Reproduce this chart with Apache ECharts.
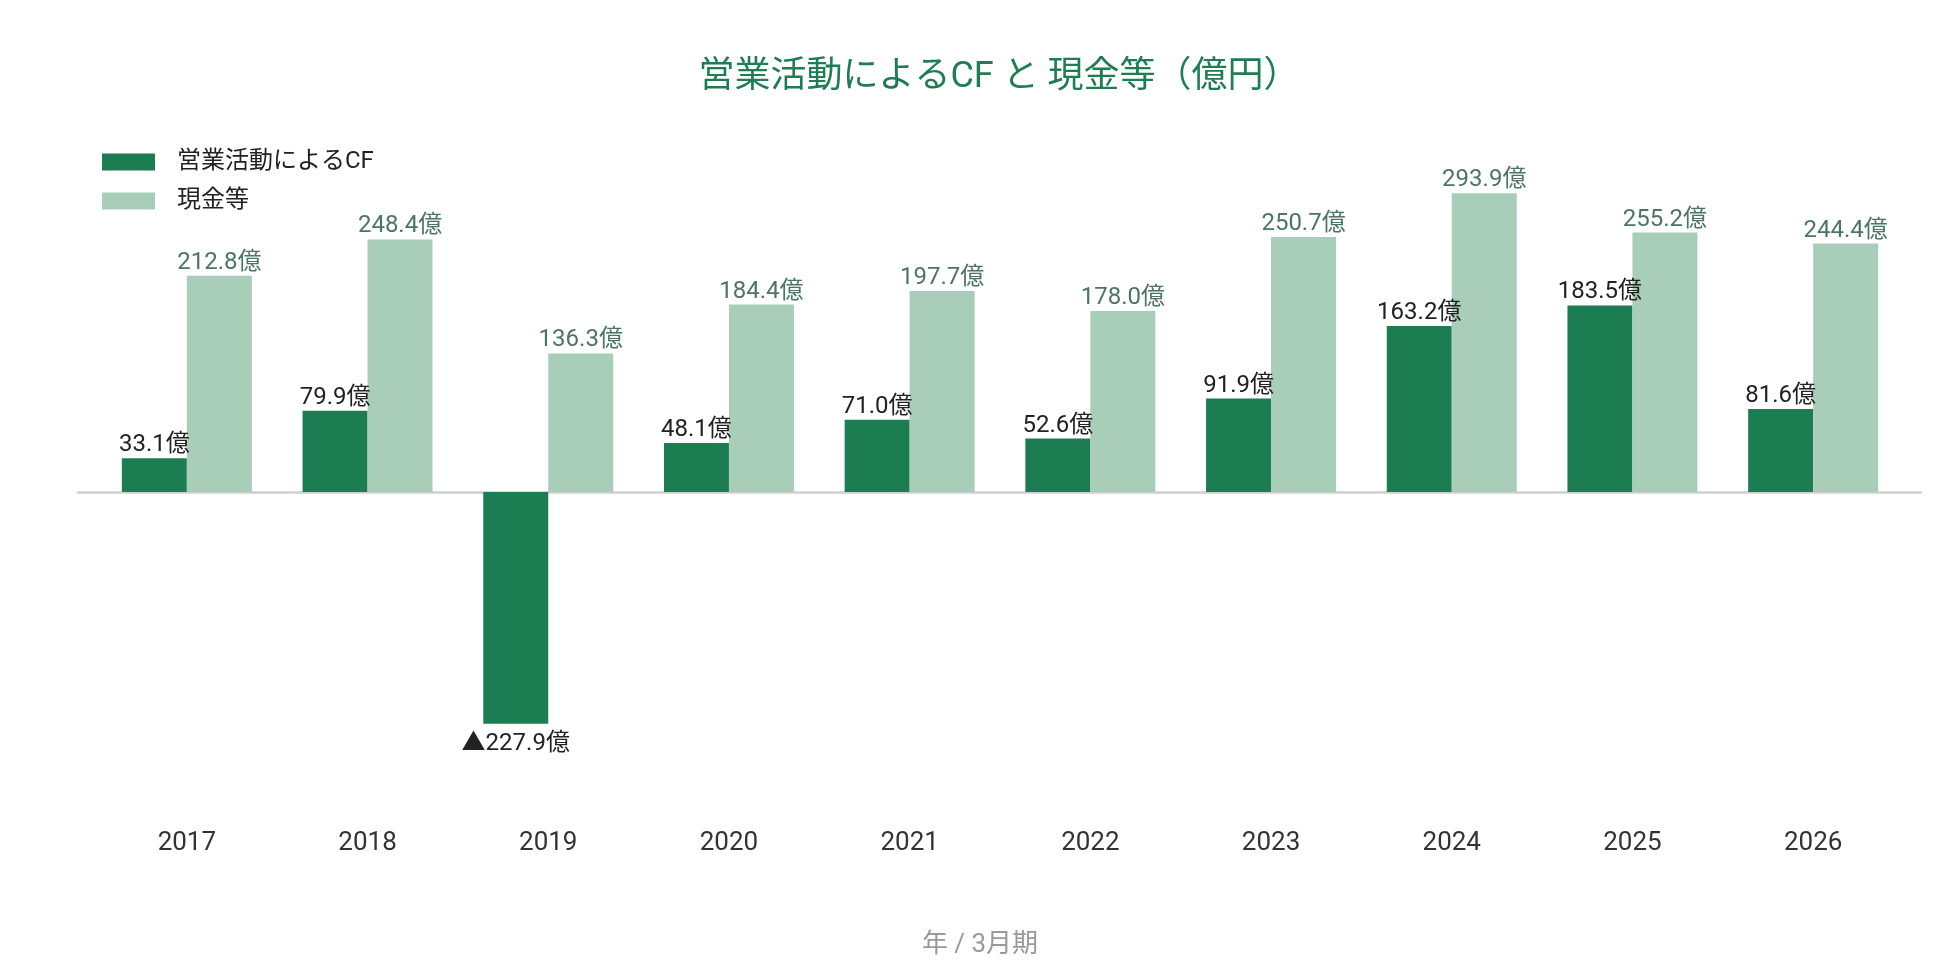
<!DOCTYPE html>
<html>
<head>
<meta charset="utf-8">
<script src="https://cdn.jsdelivr.net/npm/echarts@6/dist/echarts.min.js"></script>
<style>
html,body{margin:0;padding:0;background:#fff;}
#chart{width:1960px;height:980px;}
</style>
</head>
<body>
<div id="chart"></div>
<script>
const categories = ['2017','2018','2019','2020','2021','2022','2023','2024','2025','2026'];
const operatingCF = [33.1, 79.9, -227.9, 48.1, 71.0, 52.6, 91.9, 163.2, 183.5, 81.6];
const cashEtc = [212.8, 248.4, 136.3, 184.4, 197.7, 178.0, 250.7, 293.9, 255.2, 244.4];
const seriesNames = ['営業活動によるCF', '現金等'];
const titleText = '営業活動によるCF と 現金等（億円）';
const axisNameText = '年 / 3月期';

const FONT = 'Roboto, "Noto Sans CJK JP", sans-serif';
const DARK = '#1c7d52';
const LIGHT = '#a8cdb8';

function fmt(v) {
  return (v < 0 ? '▲' + Math.abs(v).toFixed(1) : v.toFixed(1)) + '億';
}

const chart = echarts.init(document.getElementById('chart'), null, {renderer: 'canvas'});
chart.setOption({
  backgroundColor: '#ffffff',
  animation: false,
  textStyle: {fontFamily: FONT},
  title: [
    {
      text: titleText,
      left: 994,
      textAlign: 'center',
      top: 55,
      textStyle: {color: '#1e7d52', fontSize: 36, fontWeight: 'normal', fontFamily: FONT}
    },
    {
      text: axisNameText,
      left: 975,
      textAlign: 'center',
      top: 927,
      textStyle: {color: '#999999', fontSize: 26, fontWeight: 'normal', fontFamily: FONT}
    }
  ],
  legend: {
    orient: 'vertical',
    left: 102,
    top: 150,
    padding: 0,
    itemWidth: 53,
    itemHeight: 17,
    itemGap: 15,
    icon: 'rect',
    textStyle: {color: '#222', fontSize: 24, lineHeight: 24, fontFamily: FONT, padding: [0, 0, 0, 17]},
    data: seriesNames
  },
  grid: [
    {left: 96.5, right: 56.5, top: 187, bottom: 183},
    {left: 78, right: 39, top: 187, bottom: 183}
  ],
  xAxis: [
    {
      type: 'category',
      gridIndex: 0,
      data: categories,
      axisLine: {show: false, onZero: false},
      axisTick: {show: false},
      axisLabel: {color: '#333', fontSize: 26, margin: 33, fontFamily: FONT}
    },
    {
      type: 'category',
      gridIndex: 1,
      data: categories,
      axisLine: {show: true, onZero: true, lineStyle: {color: '#d0d0d0', width: 2.5}},
      axisTick: {show: false},
      axisLabel: {show: false}
    }
  ],
  yAxis: [
    {type: 'value', gridIndex: 0, min: -300, max: 300, show: false, splitLine: {show: false}},
    {type: 'value', gridIndex: 1, min: -300, max: 300, show: false, splitLine: {show: false}}
  ],
  series: [
    {
      name: seriesNames[0],
      type: 'bar',
      xAxisIndex: 0,
      yAxisIndex: 0,
      barWidth: 65,
      barGap: '0%',
      z: 3,
      itemStyle: {color: DARK},
      label: {
        show: true,
        position: 'top',
        distance: 1,
        color: '#222',
        fontSize: 24,
        fontFamily: FONT,
        formatter: p => fmt(p.value)
      },
      data: operatingCF.map(v => v < 0 ? {value: v, label: {position: 'bottom', distance: 8}} : v)
    },
    {
      name: seriesNames[1],
      type: 'bar',
      xAxisIndex: 0,
      yAxisIndex: 0,
      barWidth: 65,
      barGap: '0%',
      z: 3,
      itemStyle: {color: LIGHT},
      label: {
        show: true,
        position: 'top',
        distance: 1,
        color: '#4d7564',
        fontSize: 24,
        fontFamily: FONT,
        formatter: p => fmt(p.value)
      },
      data: cashEtc
    }
  ]
});
</script>
</body>
</html>
